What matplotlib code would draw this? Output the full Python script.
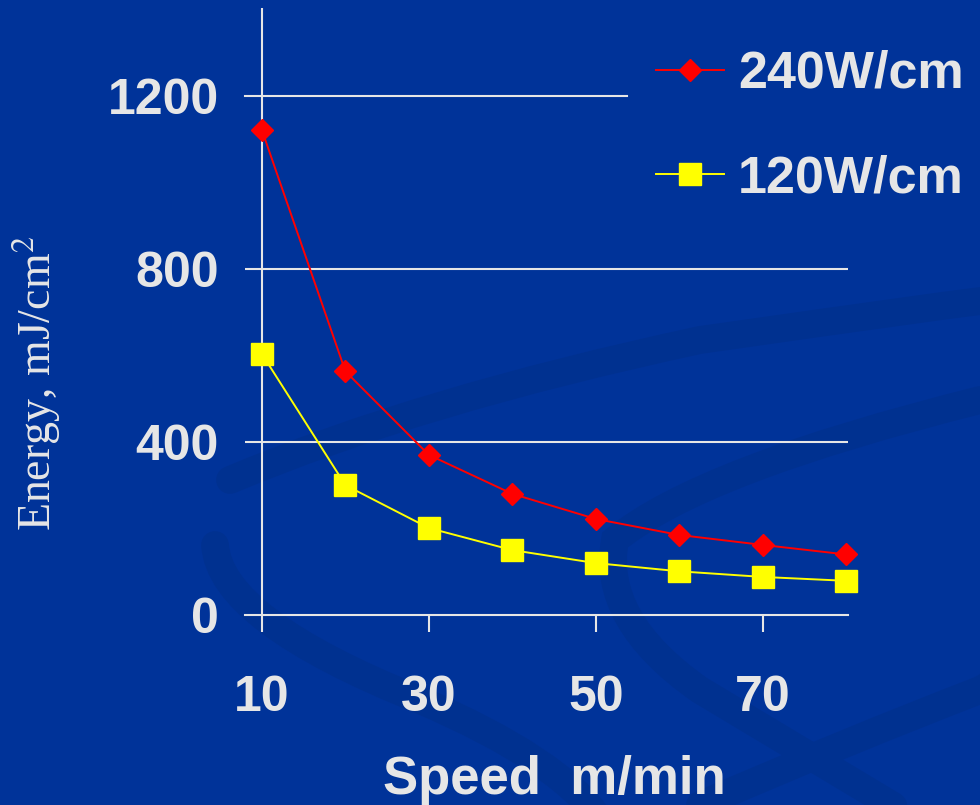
import matplotlib.pyplot as plt
from matplotlib.path import Path
from matplotlib.patches import PathPatch

# Datos
speed = [10, 20, 30, 40, 50, 60, 70, 80]
energy_240 = [1120, 563, 370, 280, 222, 185, 162, 140]
energy_120 = [603, 300, 201, 150, 120, 101, 88, 79]
yticks = [0, 400, 800, 1200]
xticks = [10, 30, 50, 70]

bg = '#003399'
txt = '#e6e6e6'
swirl = '#003190'

fig = plt.figure(figsize=(9.8, 8.05), dpi=100, facecolor=bg)

# fondo decorativo (remolinos suaves), en píxeles de la figura
bgax = fig.add_axes([0, 0, 1, 1], zorder=-5)
bgax.set_xlim(0, 980)
bgax.set_ylim(805, 0)
bgax.axis('off')
bgax.set_facecolor(bg)
curvas = [
    [(980, 400), (700, 470), (615, 540), (600, 620), (700, 690), (900, 810)],
    [(215, 545), (220, 620), (420, 700), (560, 760), (600, 820), (620, 830)],
    [(230, 480), (420, 400), (700, 340), (980, 300), (990, 300), (995, 300)],
    [(700, 805), (850, 740), (980, 690), (990, 685), (995, 680), (998, 678)],
]
for pts in curvas:
    codes = [Path.MOVETO] + [Path.CURVE3] * (len(pts) - 1)
    if (len(pts) - 1) % 2:
        codes[-1] = Path.LINETO
    bgax.add_patch(PathPatch(Path(pts, codes), facecolor='none', edgecolor=swirl,
                             lw=20, capstyle='round'))

ax = fig.add_axes([245 / 980, (805 - 615) / 805, (848 - 245) / 980, (615 - 8) / 805])
ax.set_facecolor('none')
ax.set_xlim(7.96, 80.24)
ax.set_ylim(0, 1403)

for s in ['top', 'right', 'left']:
    ax.spines[s].set_visible(False)
ax.spines['bottom'].set_color(txt)
ax.spines['bottom'].set_linewidth(1.5)

# rejilla
for y in yticks[1:3]:
    ax.axhline(y, color=txt, lw=1.5, zorder=1)
ax.plot([7.96, 53.7], [1200, 1200], color=txt, lw=1.5, zorder=1, clip_on=False)
ax.axvline(10, color=txt, lw=1.5, zorder=1)

ax.plot(speed, energy_240, color='#ff0000', lw=1.4, marker='D', markersize=11.5,
        markerfacecolor='#ff0000', markeredgecolor='#ff0000', label='240W/cm',
        zorder=3, clip_on=False)
ax.plot(speed, energy_120, color='#ffff00', lw=1.4, marker='s', markersize=15.5,
        markerfacecolor='#ffff00', markeredgecolor='#ffff00', label='120W/cm',
        zorder=3, clip_on=False)

ax.set_xticks(xticks)
ax.set_yticks(yticks)
ax.tick_params(axis='x', colors=txt, length=12, width=1.5, direction='out', pad=31,
               labelsize=36)
ax.tick_params(axis='y', colors=txt, length=0, pad=19, labelsize=36)
for lab in ax.get_xticklabels() + ax.get_yticklabels():
    lab.set_fontweight('bold')
    lab.set_fontfamily('Liberation Sans')
    lab.set_color(txt)

fig.text(554 / 980, 1 - 780 / 805, 'Speed  m/min', ha='center', va='center',
         fontsize=38, fontweight='bold', family='Liberation Sans', color=txt)
fig.text(37 / 980, 1 - 383 / 805, r'Energy, mJ/cm$^2$', rotation=90, ha='center',
         va='center', fontsize=33, family='Liberation Serif', color=txt,
         math_fontfamily='stix')

leg = ax.legend(loc='upper left', bbox_to_anchor=(635 / 980, 1 - 29 / 805),
                bbox_transform=fig.transFigure, frameon=False, handlelength=1.3,
                handletextpad=0.28, labelspacing=1.07, borderaxespad=0,
                prop={'family': 'Liberation Sans', 'weight': 'bold', 'size': 37.5})
for t in leg.get_texts():
    t.set_color(txt)

fig.savefig('out.png', dpi=100, facecolor=bg)
